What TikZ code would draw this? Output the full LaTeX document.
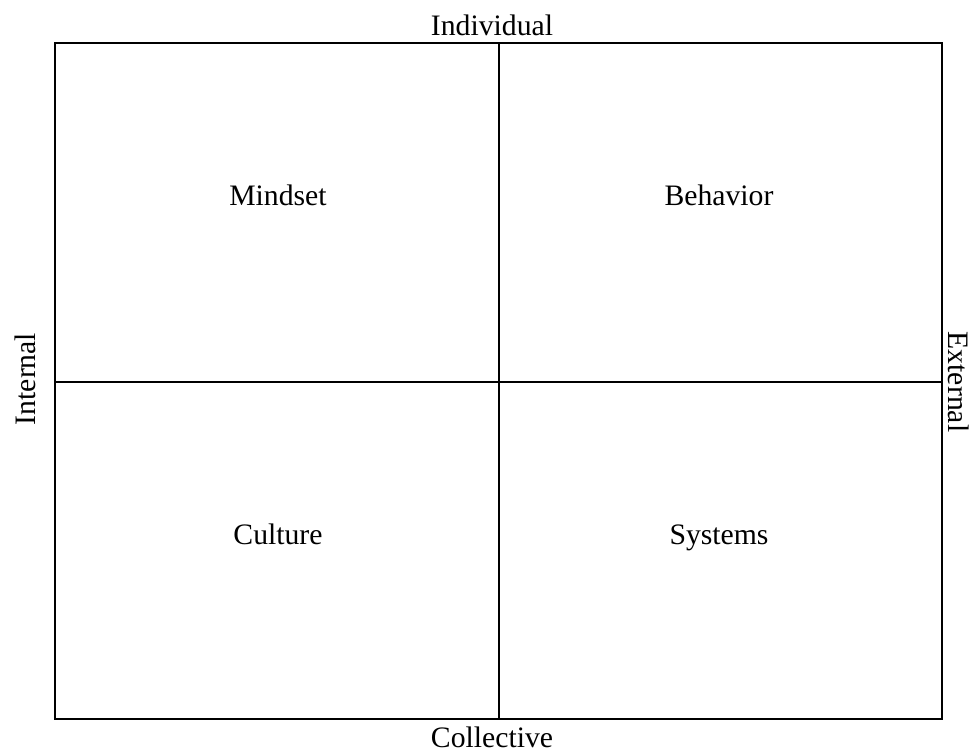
\documentclass[tikz,border=0pt]{standalone}
\usepackage{fontspec}
\setmainfont{Liberation Serif}
\begin{document}
\begin{tikzpicture}[x=1pt,y=-1pt,
  grid/.style={line width=2pt, draw=black},
  lbl/.style={inner sep=0pt, anchor=base, font=\fontsize{29.7}{34}\selectfont}]
\useasboundingbox (0,0) rectangle (976,750);
% outer frame and quadrant dividers
\coordinate (tl) at (55,43);
\coordinate (br) at (942,719);
\coordinate (mt) at (499,43);
\coordinate (mb) at (499,719);
\coordinate (ml) at (55,382);
\coordinate (mr) at (942,382);
\draw[grid] (tl) rectangle (br);
\draw[grid] (mt) -- (mb);
\draw[grid] (ml) -- (mr);
% axis labels (placed by their baselines)
\node[lbl] (ind) at (492,35) {Individual};
\node[lbl] (col) at (492,747) {Collective};
\node[lbl, rotate=90] (int) at (35,379) {Internal};
\node[lbl, rotate=-90] (ext) at (948,382) {External};
% quadrant labels
\node[lbl] (mind) at (278,205) {Mindset};
\node[lbl] (beh) at (719,205) {Behavior};
\node[lbl] (cul) at (278,544) {Culture};
\node[lbl] (sys) at (719,544) {Systems};
\end{tikzpicture}
\end{document}
